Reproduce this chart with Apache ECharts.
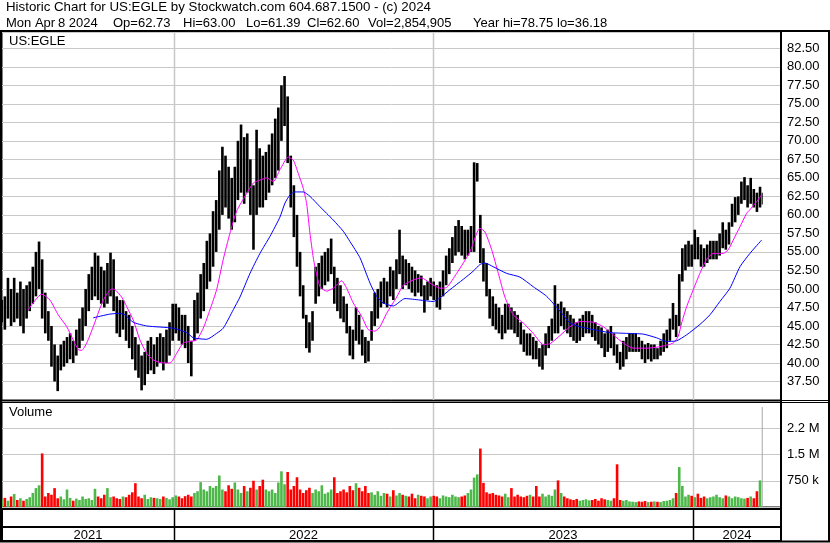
<!DOCTYPE html>
<html>
<head>
<meta charset="utf-8">
<script src="https://cdn.jsdelivr.net/npm/echarts@6/dist/echarts.min.js"></script>
<style>html,body{margin:0;padding:0;background:#fff}#chart{width:830px;height:543px}</style>
</head>
<body>
<div id="chart"></div>
<script>
// ---- data ----
// each price bar = 3 trading days (day index = 3*i); last entry = the final day alone
const ticker = 'US:EGLE';
const lastBar = { dow: 'Mon Apr', day: '8 2024', op: '62.73', hi: '63.00', lo: '61.39', cl: '62.60', vol: '2,854,905', yearHi: '78.75', yearLo: '36.18' };
const lastDay = 734;
const years = ['2021', '2022', '2023', '2024'];
const yearStartDay = [166, 416, 667];
const axisEndDay = 752;

const barLow = [
45.5,44.5,46,45,45.5,46,45,44,46,47,
48,49,50,46,44,43,39.5,37.5,36.2,39,
39.5,40,40.5,40,41,42,43,45,47,48.5,
49,48.5,48,47.5,48,49,47,44,43.5,44.5,
43,42,40.5,39,38,36.3,37,38.5,39,38.5,
39.5,40,39,40,41,43,44,43,42.5,42,
40,38.2,43,44,46,47,50,51,53,55,
58,60,61,59.5,58,59,62,63,61.5,63,
60,55.3,60,61,61,62,63,64,65,66,
70,72,67,61,57,53,49,46,42,41.4,
43,48,49,50,50.5,51,52,48,47,46,
45.5,44,41,40.5,43,42.5,41,40,40.2,43,
45,46,47.5,48,47.5,49,48.5,50,52,50,
50.5,50,49.5,49,49.5,49,46.8,48.5,49,48.5,
47.5,47.2,49,50.5,52,53.5,54.5,55,54.5,54,
54.5,55,55,64.5,53.5,51,49,46,45,44.5,
44,43.2,44,44.5,44.5,44,43.5,42.5,41.5,41,
41,40.5,40.5,39.5,39.1,41,42,43,44,44,
45,44.5,44,43.5,43,42.7,43,43.5,44,44,
43.5,43,42.5,42,40.8,41.5,42,41,40,39.1,
39.5,40.5,41.5,41.5,41.5,41.5,40.5,40,40.5,40.2,
40.5,40.5,41,41.5,42,43,44.5,43.5,45,51,
52.5,53,53,54,54,53,53,53.5,54,54,
54,54.5,55.5,55.3,56,58.4,59,60,61.5,62,
61,61.5,61,60.4,61,61.39
];
const barHigh = [
48.5,49,51.5,50,51.5,49.5,51,50,50.5,51,
53,55,56.4,54,49.5,47,45,42.5,41,42.5,
43,43.5,44,43,44.5,46,47.5,50,52,53,
54.9,54.5,53,52.5,53.5,54.9,54,49,48.5,48.5,
47,46.5,45,43.5,42.5,41,41.5,43,43.5,42.5,
43.5,44,43.5,44.5,45.5,48,48,47.5,46.5,46.5,
45,43,48.5,49.5,52,53.5,56.5,57.5,60.5,62,
66,69.2,68,66.5,65,66.5,70,72.2,70.5,71,
67.5,64,71.5,69,68,68.5,69.5,71,73,74.5,
77.5,78.75,76,68,64,60,55,50.5,46.5,45.5,
47,53,53.5,54.5,55,55.5,56.8,53,51.5,50.5,
49,48,45,44.5,47.5,46.5,44.5,43.5,43,47,
49.5,50,51,51.5,51,53,52.5,54,58,54.5,
54,53.5,53,52.5,52,51.8,50.5,51,51.5,51,
50.5,51,52.5,54.5,55.5,57,58.5,59.3,58.5,58,
58,58.5,67.1,67,60,55.5,53.5,50,49,48,
47.5,46.5,48,48,47.5,47,46.5,45.5,44.5,44,
44,43.5,43,42,42.5,44,45,46,50.5,48,
48.3,47.5,47,46.5,46,45.5,46,46.5,47,47,
46.5,45.5,45,44.8,44,44.5,45,44,42.5,41.5,
43,43.5,44,44,44,43.5,43,42.5,42.7,42.5,
42.5,42,43,44,44.5,46,48.1,46.5,52,55.5,
56,56.5,56,58,57,56,55.5,56,56.5,56.5,
56.5,57.5,59,58,59,61.5,62.4,62.5,64.5,65.1,
64,65,63.5,63,63.8,63.0
];
// volume in thousands of shares
const volumeK = [
220,260,180,300,370,200,250,180,230,280,
400,540,620,1530,300,400,350,540,250,300,
220,500,260,180,240,200,300,230,250,200,
520,300,250,350,540,280,300,250,230,300,
280,350,420,680,300,250,350,230,280,260,
250,230,300,260,220,280,330,300,250,310,
350,300,400,450,710,500,450,600,550,600,
900,500,450,620,520,700,500,400,600,450,
550,750,500,600,780,500,450,500,400,700,
1020,650,1000,500,600,850,500,400,480,550,
400,500,450,620,380,420,500,850,400,450,
500,420,600,480,680,550,450,600,400,420,
350,450,320,400,380,300,480,330,400,350,
320,300,380,250,350,320,300,250,300,320,
300,250,330,300,280,350,300,280,300,330,
400,500,840,930,1670,690,420,380,400,350,
330,300,380,280,540,300,350,300,280,320,
350,300,600,300,380,300,350,320,500,760,
400,300,250,220,200,230,180,200,220,190,
200,230,180,250,220,200,180,250,1220,200,
180,200,160,150,140,160,150,170,140,150,
160,150,140,170,180,200,250,400,1140,600,
300,350,320,280,380,260,300,250,280,300,
350,280,250,330,300,250,300,280,250,240,
260,300,250,450,760,2855
];
// moving averages [day, price]
const maShort = [[25.4,47.2],[38.3,49.3],[46.3,48.5],[54.3,46.5],[62.5,44.9],[68.8,43.1],[73.6,41.8],[76.9,41.7],[81.8,42.7],[88.1,44.9],[94.6,47.4],[99.4,48.9],[105.9,50.0],[109.1,49.9],[115.5,48.9],[120.4,47.6],[126.7,45.8],[133.2,43.1],[139.7,41.3],[146.0,40.4],[155.7,40.0],[162.2,40.0],[168.6,41.3],[175,42.7],[181.5,42.9],[187.9,43.1],[194.3,44.7],[200.8,47.2],[207.2,49.9],[213.6,54.0],[220,57.5],[226.5,60.5],[236.2,62.9],[242.6,64.3],[249,64.7],[255.5,65.0],[261.9,64.5],[268.3,66.1],[276.4,67.8],[281.2,67.4],[286,65.6],[290.8,63.6],[294.1,61.5],[297.3,57.5],[300.5,54.2],[302.1,53.0],[307,50.3],[313.4,49.7],[319.8,50.1],[327.9,51.1],[332.7,50.1],[339.1,48.1],[347.2,46.3],[353.6,44.5],[360,44.3],[364.9,44.9],[371.3,46.7],[381,48.9],[387.4,50.5],[397,51.2],[405.1,51.5],[413.1,50.8],[422.8,50.1],[429.2,50.2],[438.9,52.1],[451.7,55.0],[458.2,57.5],[461.4,58.2],[466.2,57.7],[472.7,55.3],[479.1,52.1],[485.5,48.9],[493.5,46.5],[503.2,45.4],[512.8,44.0],[522.5,42.5],[529,42.6],[538.6,43.7],[548.3,44.9],[557.9,45.6],[570.8,45.5],[580.4,44.9],[590.1,43.8],[599.7,42.7],[609.4,42.0],[622.3,42.0],[635.1,42.2],[648,42.7],[652.8,43.6],[656.1,45.4],[660.9,47.6],[667.3,49.9],[673.7,52.1],[680.2,54.0],[686.6,54.8],[696.2,54.8],[701.1,55.3],[705.9,56.6],[712.4,58.4],[718.8,60.2],[722,60.7],[728.5,61.8],[733.3,62.7]];
const maLong = [[88.1,46.1],[104.2,46.6],[113.9,46.7],[118.7,46.5],[126.7,45.5],[139.7,45.0],[165.3,44.7],[178.3,44.1],[184.7,43.4],[197.6,43.2],[207.2,44.0],[213.6,44.7],[223.3,47.2],[229.7,48.9],[239.4,52.1],[249,54.8],[258.7,57.1],[268.3,59.7],[273.2,61.6],[278,62.7],[282.8,63.1],[290.8,63.1],[297.3,62.5],[307,61.1],[313.4,60.2],[319.8,59.3],[329.4,57.8],[335.9,56.4],[345.6,54.2],[355.2,50.8],[361.7,49.0],[368,48.1],[377.7,47.7],[389,48.7],[403.5,48.5],[416.3,48.3],[422.8,48.8],[432.4,49.9],[445.3,51.3],[454.9,52.4],[461.4,53.3],[466.2,53.5],[474.2,53.0],[487.2,52.1],[500,51.6],[512.8,50.3],[525.8,49.0],[538.6,47.0],[548.3,45.4],[557.9,44.9],[570.8,44.5],[586.9,44.1],[603,44.0],[619,43.9],[631.9,43.4],[641.6,42.9],[651.3,43.0],[660.9,43.8],[673.7,45.2],[683.4,46.5],[693,48.3],[702.7,50.1],[712.4,53.0],[722,54.8],[733.3,56.6]];

// ---- build ----
const FONT = '"Liberation Sans", Arial, sans-serif';
const n = barHigh.length;
const dayOf = i => (i < n - 1 ? i * 3 : lastDay);
const spanOf = i => (i < n - 1 ? 3 : 1.2);
const priceData = barHigh.map((h, i) => [dayOf(i), barLow[i], h, spanOf(i)]);
const mid = barHigh.map((h, i) => (h + barLow[i]) / 2);
const volData = volumeK.map((v, i) => [dayOf(i), v, i === n - 1 ? 2 : (i === 0 || mid[i] >= mid[i - 1] ? 1 : 0), spanOf(i)]);
const volColors = ['#ff0000', '#4db849', '#a8a8a8'];
const bounds = [0].concat(yearStartDay, [axisEndDay]);
const yearLabelData = years.map((y, i) => [(bounds[i] + bounds[i + 1]) / 2, 0.5]);

const chart = echarts.init(document.getElementById('chart'), null, { renderer: 'canvas' });

function vLine(color, width) {
  return function (params, api) {
    const cs = params.coordSys;
    const x = Math.round(api.coord([api.value(0), 0])[0]) + 0.5;
    return { type: 'line', shape: { x1: x, y1: cs.y, x2: x, y2: cs.y + cs.height }, style: { stroke: color, lineWidth: width } };
  };
}
const txt = (t, left, top, size) => ({ text: t, left, top, padding: 0, textStyle: { fontSize: size || 13, fontWeight: 'normal', fontFamily: FONT, color: '#000' } });

// header line 2 pieces (text, left x) – layout only
const header2 = [
  [lastBar.dow, 6], [lastBar.day, 58], ['Op=' + lastBar.op, 113], ['Hi=' + lastBar.hi, 183], ['Lo=' + lastBar.lo, 246],
  ['Cl=' + lastBar.cl, 307], ['Vol=' + lastBar.vol, 368], ['Year hi=' + lastBar.yearHi, 473], ['lo=' + lastBar.yearLo, 557]
];

const option = {
  animation: false,
  backgroundColor: '#fff',
  title: [].concat(
    [txt('Historic Chart for ' + ticker + ' by Stockwatch.com 604.687.1500 - (c) 2024', 6, 1, 13.3)],
    header2.map(h => txt(h[0], h[1], 17)),
    [txt(ticker, 9, 35), txt('Volume', 9, 406)]
  ),
  grid: [
    { left: 2, right: 49, top: 32, height: 368, show: true, borderColor: '#000', borderWidth: 1 },
    { left: 2, right: 49, top: 402, height: 105, show: true, borderColor: '#000', borderWidth: 1 },
    { left: 2, right: 49, top: 509, height: 18, show: true, borderColor: '#000', borderWidth: 2 },
    { left: 2, right: 49, top: 527, height: 14, show: true, borderColor: '#000', borderWidth: 2 }
  ],
  xAxis: [0, 1, 2, 3].map(i => ({ type: 'value', gridIndex: i, min: 0, max: axisEndDay, show: false })),
  yAxis: [
    { type: 'value', gridIndex: 0, position: 'right', min: 35, max: 84.7, interval: 2.5,
      axisLine: { show: false }, axisTick: { show: false },
      splitLine: { lineStyle: { color: '#c8c8c8', width: 1 } },
      axisLabel: { showMinLabel: false, showMaxLabel: false, margin: 6, color: '#000', fontSize: 13, fontFamily: FONT, formatter: v => v.toFixed(2) } },
    { type: 'value', gridIndex: 1, position: 'right', min: 0, max: 3000, interval: 750,
      axisLine: { show: false }, axisTick: { show: false },
      splitLine: { lineStyle: { color: '#c8c8c8', width: 1 } },
      axisLabel: { showMinLabel: false, showMaxLabel: false, margin: 6, color: '#000', fontSize: 13, fontFamily: FONT,
        formatter: v => (v >= 1000 ? (Math.floor(v / 100) / 10) + ' M' : v + ' k') } },
    { type: 'value', gridIndex: 2, min: 0, max: 1, show: false },
    { type: 'value', gridIndex: 3, min: 0, max: 1, show: false }
  ],
  graphic: [
    { type: 'line', shape: { x1: 0, y1: 400.5, x2: 830, y2: 400.5 }, style: { stroke: '#000', lineWidth: 1 }, z: 50 },
    { type: 'line', shape: { x1: 0, y1: 402.5, x2: 830, y2: 402.5 }, style: { stroke: '#000', lineWidth: 1 }, z: 50 },
    { type: 'line', shape: { x1: 781, y1: 31, x2: 781, y2: 541 }, style: { stroke: '#000', lineWidth: 2 }, z: 50 },
    { type: 'rect', shape: { x: 1, y: 31, width: 828, height: 510.5 }, style: { fill: null, stroke: '#000', lineWidth: 2 }, z: 50 }
  ],
  series: [
    { type: 'custom', xAxisIndex: 0, yAxisIndex: 0, z: 1, silent: true, data: yearStartDay.map(d => [d]), renderItem: vLine('#c8c8c8', 1.5) },
    { type: 'custom', xAxisIndex: 1, yAxisIndex: 1, z: 1, silent: true, data: yearStartDay.map(d => [d]), renderItem: vLine('#c8c8c8', 1.5) },
    { type: 'custom', xAxisIndex: 2, yAxisIndex: 2, z: 1, silent: true, data: yearStartDay.map(d => [d]), renderItem: vLine('#000', 1.5) },
    { type: 'custom', xAxisIndex: 3, yAxisIndex: 3, z: 1, silent: true, data: yearStartDay.map(d => [d]), renderItem: vLine('#000', 1.5) },
    { type: 'custom', name: 'price', xAxisIndex: 0, yAxisIndex: 0, z: 3, clip: true, encode: { x: 0, y: [1, 2] }, data: priceData,
      renderItem: (params, api) => {
        const d = api.value(0);
        const top = api.coord([d, api.value(2)]);
        const bot = api.coord([d, api.value(1)]);
        const w = api.size([api.value(3), 0])[0];
        return { type: 'rect', shape: { x: top[0] - w / 2, y: top[1], width: Math.max(1, w - 0.5), height: Math.max(1, bot[1] - top[1]) }, style: { fill: '#000' } };
      } },
    { type: 'line', name: 'MA short', xAxisIndex: 0, yAxisIndex: 0, z: 4, data: maShort, showSymbol: false, symbol: 'none', smooth: 0.2, lineStyle: { color: '#ff00ff', width: 1 } },
    { type: 'line', name: 'MA long', xAxisIndex: 0, yAxisIndex: 0, z: 4, data: maLong, showSymbol: false, symbol: 'none', smooth: 0.2, lineStyle: { color: '#0000ff', width: 1 } },
    { type: 'custom', name: 'volume', xAxisIndex: 1, yAxisIndex: 1, z: 3, clip: true, encode: { x: 0, y: 1 }, data: volData,
      renderItem: (params, api) => {
        const d = api.value(0);
        const top = api.coord([d, api.value(1)]);
        const base = api.coord([d, 0]);
        const w = api.size([api.value(3), 0])[0];
        return { type: 'rect', shape: { x: top[0] - w / 2, y: top[1], width: Math.max(1, w - 0.5), height: base[1] - top[1] }, style: { fill: volColors[api.value(2)] } };
      } },
    { type: 'custom', name: 'years', xAxisIndex: 3, yAxisIndex: 3, z: 3, silent: true, data: yearLabelData,
      renderItem: (params, api) => {
        const p = api.coord([api.value(0), api.value(1)]);
        return { type: 'text', style: { text: years[params.dataIndex], x: p[0], y: p[1] + 1, align: 'center', verticalAlign: 'middle', font: '13px ' + FONT, fill: '#000' } };
      } }
  ]
};
chart.setOption(option);
</script>
</body>
</html>
